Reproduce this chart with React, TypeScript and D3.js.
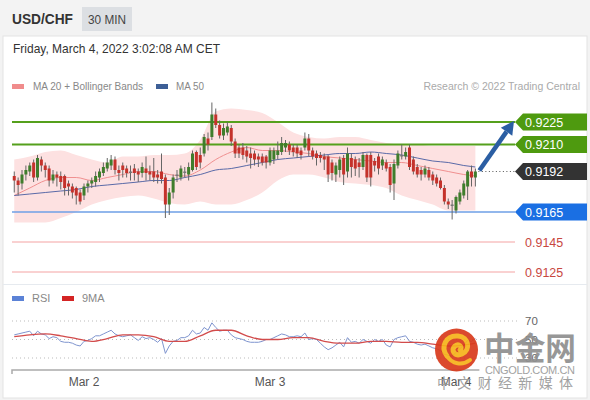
import React from 'react';
import * as d3 from 'd3';

// ---------- DATA (USD/CHF, 30 min candles, from Mar 1 15:00 CET) ----------
const opens = [
  0.9189,0.9186,0.9184,0.9190,0.9192,0.9198,0.9188,0.9200,0.9196,0.9194,
  0.9186,0.9190,0.9189,0.9189,0.9184,0.9182,0.9181,0.9178,0.9176,0.9182,
  0.9184,0.9185,0.9188,0.9191,0.9194,0.9196,0.9200,0.9193,0.9196,0.9194,
  0.9192,0.9194,0.9192,0.9191,0.9194,0.9192,0.9192,0.9190,0.9192,0.9188,
  0.9170,0.9178,0.9189,0.9188,0.9191,0.9190,0.9193,0.9205,0.9203,0.9204,
  0.9214,0.9215,0.9230,0.9223,0.9216,0.9218,0.9221,0.9212,0.9208,0.9208,
  0.9206,0.9204,0.9204,0.9202,0.9202,0.9202,0.9198,0.9200,0.9203,0.9205,
  0.9208,0.9210,0.9208,0.9208,0.9206,0.9208,0.9214,0.9206,0.9204,0.9203,
  0.9202,0.9202,0.9198,0.9190,0.9193,0.9201,0.9192,0.9201,0.9200,0.9198,
  0.9195,0.9203,0.9203,0.9199,0.9202,0.9196,0.9198,0.9195,0.9184,0.9196,
  0.9203,0.9202,0.9208,0.9200,0.9195,0.9193,0.9190,0.9193,0.9190,0.9188,
  0.9186,0.9181,0.9172,0.9170,0.9166,0.9172,0.9176,0.9182,0.9192,0.9188,
];
const highs = [
  0.9192,0.9188,0.9193,0.9196,0.9198,0.9200,0.9203,0.9202,0.9198,0.9196,
  0.9193,0.9192,0.9192,0.9190,0.9186,0.9184,0.9182,0.9180,0.9184,0.9186,
  0.9188,0.9192,0.9194,0.9198,0.9201,0.9203,0.9202,0.9196,0.9198,0.9196,
  0.9196,0.9197,0.9194,0.9198,0.9202,0.9196,0.9201,0.9193,0.9204,0.9190,
  0.9181,0.9190,0.9193,0.9196,0.9195,0.9198,0.9206,0.9206,0.9208,0.9217,
  0.9218,0.9238,0.9234,0.9226,0.9224,0.9225,0.9223,0.9214,0.9210,0.9211,
  0.9209,0.9208,0.9206,0.9204,0.9204,0.9203,0.9208,0.9208,0.9212,0.9215,
  0.9213,0.9212,0.9210,0.9210,0.9208,0.9218,0.9217,0.9208,0.9206,0.9205,
  0.9204,0.9203,0.9200,0.9198,0.9202,0.9203,0.9208,0.9204,0.9202,0.9201,
  0.9205,0.9204,0.9205,0.9201,0.9204,0.9202,0.9200,0.9197,0.9200,0.9206,
  0.9210,0.9208,0.9210,0.9202,0.9197,0.9195,0.9196,0.9195,0.9192,0.9190,
  0.9188,0.9183,0.9174,0.9173,0.9176,0.9180,0.9186,0.9193,0.9196,0.9194,
];
const lows = [
  0.9178,0.9176,0.9180,0.9186,0.9189,0.9185,0.9186,0.9192,0.9188,0.9182,
  0.9184,0.9182,0.9180,0.9176,0.9176,0.9174,0.9170,0.9170,0.9173,0.9178,
  0.9181,0.9182,0.9185,0.9189,0.9192,0.9193,0.9190,0.9186,0.9188,0.9188,
  0.9186,0.9186,0.9185,0.9188,0.9186,0.9186,0.9185,0.9184,0.9184,0.9161,
  0.9163,0.9174,0.9185,0.9186,0.9188,0.9186,0.9192,0.9193,0.9194,0.9202,
  0.9206,0.9213,0.9221,0.9214,0.9213,0.9216,0.9209,0.9201,0.9201,0.9200,
  0.9198,0.9194,0.9196,0.9195,0.9196,0.9194,0.9196,0.9197,0.9200,0.9203,
  0.9205,0.9203,0.9202,0.9201,0.9200,0.9206,0.9202,0.9200,0.9196,0.9198,
  0.9193,0.9185,0.9186,0.9185,0.9188,0.9183,0.9188,0.9188,0.9189,0.9188,
  0.9193,0.9185,0.9182,0.9192,0.9190,0.9193,0.9192,0.9178,0.9173,0.9194,
  0.9200,0.9200,0.9193,0.9190,0.9188,0.9186,0.9188,0.9186,0.9183,0.9182,
  0.9180,0.9170,0.9167,0.9160,0.9164,0.9170,0.9174,0.9173,0.9182,0.9182,
];
const closes = [
  0.9186,0.9183,0.9190,0.9193,0.9196,0.9188,0.9201,0.9196,0.9193,0.9186,
  0.9190,0.9188,0.9185,0.9181,0.9182,0.9178,0.9176,0.9172,0.9182,0.9184,
  0.9186,0.9189,0.9192,0.9195,0.9198,0.9200,0.9193,0.9191,0.9193,0.9191,
  0.9191,0.9191,0.9190,0.9195,0.9191,0.9190,0.9188,0.9188,0.9187,0.9170,
  0.9178,0.9188,0.9190,0.9194,0.9192,0.9195,0.9204,0.9195,0.9198,0.9215,
  0.9210,0.9230,0.9223,0.9216,0.9221,0.9222,0.9212,0.9204,0.9204,0.9203,
  0.9202,0.9201,0.9200,0.9200,0.9198,0.9198,0.9206,0.9206,0.9206,0.9211,
  0.9211,0.9206,0.9205,0.9204,0.9203,0.9214,0.9206,0.9202,0.9201,0.9201,
  0.9200,0.9190,0.9191,0.9196,0.9200,0.9190,0.9204,0.9195,0.9194,0.9195,
  0.9203,0.9188,0.9188,0.9196,0.9194,0.9200,0.9194,0.9183,0.9197,0.9204,
  0.9202,0.9205,0.9195,0.9192,0.9190,0.9190,0.9194,0.9188,0.9186,0.9184,
  0.9181,0.9172,0.9170,0.9169,0.9175,0.9178,0.9184,0.9192,0.9188,0.9192,
];

// candle indices at which the indicator curves were read
const indIdx = [0,4,8,12,16,20,24,28,32,36,40,44,48,52,56,60,64,68,72,76,80,84,88,92,96,100,104,108,112,116,119];
const ma20 = [0.9176,0.9181,0.9186,0.9188,0.9188,0.9186,0.9188,0.9190,0.9192,0.9192,0.9190,0.9189,0.9193,0.9200,0.9205,0.9208,0.9206,0.9206,0.9205,0.9204,0.9202,0.9201,0.9200,0.9199,0.9198,0.9198,0.9196,0.9194,0.9192,0.9190,0.9189];
const bbUpper = [0.9200,0.9202,0.9205,0.9206,0.9203,0.9200,0.9198,0.9202,0.9202,0.9203,0.9203,0.9204,0.9213,0.9232,0.9234,0.9233,0.9231,0.9225,0.9218,0.9215,0.9214,0.9215,0.9215,0.9213,0.9211,0.9210,0.9210,0.9209,0.9209,0.9209,0.9209];
const bbLower = [0.9158,0.9158,0.9158,0.9161,0.9165,0.9170,0.9173,0.9175,0.9176,0.9174,0.9171,0.9170,0.9172,0.9170,0.9170,0.9173,0.9178,0.9186,0.9190,0.9190,0.9188,0.9185,0.9184,0.9183,0.9181,0.9176,0.9173,0.9170,0.9166,0.9166,0.9166];
const ma50 = [0.9176,0.9177,0.9178,0.9179,0.9180,0.9182,0.9183,0.9184,0.9185,0.9186,0.9186,0.9188,0.9190,0.9193,0.9194,0.9196,0.9198,0.9200,0.9201,0.9202,0.9203,0.9204,0.9204,0.9205,0.9204,0.9203,0.9201,0.9199,0.9198,0.9196,0.9195];

const rsi = [
  55,56,57,58,59,54,59,56,55,51,
  53,52,48,47,47,46,44,43,48,49,
  51,54,54,56,58,60,56,54,53,54,
  55,52,49,53,51,52,50,47,51,35,
  43,48,49,52,52,54,60,56,57,63,
  60,68,63,59,60,60,55,52,51,50,
  48,47,47,47,48,50,50,52,54,56,
  55,53,53,54,53,57,50,51,50,46,
  42,39,41,44,47,42,52,47,48,46,
  50,48,46,50,48,50,44,42,50,52,
  53,54,48,47,45,44,45,43,41,40,
  38,34,33,32,36,40,44,49,48,51,
];
const rsiMa = [53,55,56,54,51,48,51,55,55,53,48,48,54,60,60,54,50,50,52,52,48,46,46,48,48,47,47,45,43,44,46];

const resistances = [0.9225, 0.9210];
const lastPrice = 0.9192;
const pivot = 0.9165;
const supports = [0.9145, 0.9125];
const rsiLevels = [70, 50, 30];
const dayTicks = ['2022-03-02', '2022-03-03', '2022-03-04'];

const START = Date.UTC(2022, 2, 1, 15, 0);
const STEP = 30 * 60 * 1000;
const times = opens.map((_, i) => new Date(START + i * STEP));

const FONT = '"Liberation Sans", Arial, Helvetica, sans-serif';
const CJK = '"Noto Sans CJK SC", sans-serif';

export default function App() {
  const x = d3.scaleUtc()
    .domain([new Date(Date.UTC(2022, 2, 2)), new Date(Date.UTC(2022, 2, 4))])
    .range([84, 456]);
  const y = d3.scaleLinear().domain([0.9125, 0.9225]).range([272, 122]);
  const yr = d3.scaleLinear().domain([30, 70]).range([358, 321]);

  const ix = (k: number) => x(times[indIdx[k]]);
  const band = d3.area<number>()
    .x((_, k) => ix(k))
    .y0((_, k) => y(bbLower[k]))
    .y1((_, k) => y(bbUpper[k]))
    .curve(d3.curveMonotoneX)(indIdx) || '';
  const lineOf = (arr: number[]) => d3.line<number>()
    .x((_, k) => ix(k)).y((d) => y(d)).curve(d3.curveMonotoneX)(arr) || '';
  const rsiPath = d3.line<number>().x((_, i) => x(times[i])).y((d) => yr(d))(rsi) || '';
  const rsiMaPath = d3.line<number>().x((_, k) => ix(k)).y((d) => yr(d)).curve(d3.curveMonotoneX)(rsiMa) || '';

  const lineStart = 12;
  const labelX = 515;
  const labelEnd = 587;
  const xLast = x(times[times.length - 1]);

  const labelBox = (v: number, fill: string, txt: string) => {
    const cy = y(v);
    const h = 17;
    const pts = [
      [labelX, cy], [labelX + 8, cy - h / 2], [labelEnd, cy - h / 2],
      [labelEnd, cy + h / 2], [labelX + 8, cy + h / 2],
    ].map((p) => p.join(',')).join(' ');
    return (
      <g key={txt}>
        <polygon points={pts} fill={fill} />
        <text x={labelX + 10} y={cy + 4.5} fill="#fff" fontSize={12.5}>{txt}</text>
      </g>
    );
  };

  // forecast arrow
  const sx = xLast + 4, sy = y(lastPrice) - 1;
  const tx = labelX - 1, ty = y(resistances[0]) - 1;
  const dx = tx - sx, dy = ty - sy, len = Math.hypot(dx, dy);
  const ux = dx / len, uy = dy / len;
  const bx = tx - ux * 13, by = ty - uy * 13;
  const nx = -uy, ny = ux;
  const head = `${tx},${ty} ${bx + nx * 7},${by + ny * 7} ${bx - nx * 7},${by - ny * 7}`;

  const fmtDay = d3.utcFormat('%b %-d');

  return (
    <svg width={590} height={400} style={{ position: 'absolute', left: 0, top: 0, fontFamily: FONT }}>
      <rect x={0} y={0} width={590} height={400} fill="#f3f3f3" />
      <rect x={3} y={36} width={584} height={362} fill="#ffffff" stroke="#e3e3e3" />
      <line x1={3} x2={587} y1={284.5} y2={284.5} stroke="#e6eaef" />

      {/* header */}
      <text x={12} y={24} fontSize={14.5} fontWeight="bold" fill="#333" textLength={61} lengthAdjust="spacingAndGlyphs">USD/CHF</text>
      <rect x={82} y={7} width={50} height={24} fill="#dcdfe3" />
      <text x={107} y={23.5} fontSize={12.5} fill="#444" textAnchor="middle" textLength={38} lengthAdjust="spacingAndGlyphs">30 MIN</text>
      <text x={13} y={53} fontSize={13} fill="#333" textLength={207} lengthAdjust="spacingAndGlyphs">Friday, March 4, 2022 3:02:08 AM CET</text>

      {/* legend */}
      <rect x={12} y={84} width={12} height={5} fill="#f08c8c" />
      <text x={33} y={90} fontSize={11} fill="#888" textLength={110} lengthAdjust="spacingAndGlyphs">MA 20 + Bollinger Bands</text>
      <rect x={156} y={84} width={12} height={5} fill="#3d5f96" />
      <text x={176} y={90} fontSize={11} fill="#888" textLength={28} lengthAdjust="spacingAndGlyphs">MA 50</text>
      <text x={580} y={90} fontSize={10.5} fill="#aaa" textAnchor="end">Research © 2022 Trading Central</text>

      {/* bollinger band + moving averages */}
      <path d={band} fill="#fde1e1" />
      <path d={lineOf(ma20)} fill="none" stroke="#f09090" strokeWidth={1} />
      <path d={lineOf(ma50)} fill="none" stroke="#5a6aa8" strokeWidth={1} />

      {/* key levels */}
      {resistances.map((v) => (
        <line key={v} x1={lineStart} x2={labelX} y1={y(v)} y2={y(v)} stroke="#55a01c" strokeWidth={2} />
      ))}
      <line x1={lineStart} x2={labelX} y1={y(pivot)} y2={y(pivot)} stroke="#6e9fe6" strokeWidth={1.5} />
      {supports.map((v) => (
        <line key={v} x1={lineStart} x2={labelX} y1={y(v)} y2={y(v)} stroke="#f4a3a3" strokeWidth={1} />
      ))}
      <line x1={xLast + 3} x2={labelX} y1={y(lastPrice)} y2={y(lastPrice)} stroke="#555" strokeWidth={1} strokeDasharray="1,2.5" />

      {/* candles */}
      {opens.map((o, i) => {
        const c = closes[i];
        const cx = x(times[i]);
        const up = c > o;
        const flat = Math.abs(c - o) < 0.00015;
        const col = flat ? '#777' : up ? '#3f7d2c' : '#c4322b';
        const top = y(Math.max(o, c));
        const bot = y(Math.min(o, c));
        return (
          <g key={i}>
            <line x1={cx} x2={cx} y1={y(highs[i])} y2={y(lows[i])} stroke="#666" strokeWidth={1} />
            <rect x={cx - 1.5} y={top} width={3} height={Math.max(1.2, bot - top)} fill={col} />
          </g>
        );
      })}

      {/* arrow */}
      <line x1={sx} y1={sy} x2={bx} y2={by} stroke="#2b5ea3" strokeWidth={4.5} />
      <polygon points={head} fill="#2b5ea3" />

      {/* level labels */}
      {labelBox(resistances[0], '#4e9a0f', '0.9225')}
      {labelBox(resistances[1], '#4e9a0f', '0.9210')}
      {labelBox(lastPrice, '#333333', '0.9192')}
      {labelBox(pivot, '#1a6fe3', '0.9165')}
      {supports.map((v) => (
        <text key={v} x={labelX + 10} y={y(v) + 4.5} fontSize={12.5} fill="#c8473f">{v.toFixed(4)}</text>
      ))}

      {/* RSI panel */}
      <rect x={12} y={296} width={12} height={5} fill="#5b82d6" />
      <text x={32} y={302} fontSize={11} fill="#888">RSI</text>
      <rect x={62} y={296} width={12} height={5} fill="#d42424" />
      <text x={82} y={302} fontSize={11} fill="#888">9MA</text>
      {rsiLevels.map((v) => (
        <g key={v}>
          <line x1={lineStart} x2={518} y1={yr(v)} y2={yr(v)} stroke="#bbb" strokeDasharray="1,3" />
          <text x={525} y={yr(v) + 4} fontSize={11.5} fill="#666">{v}</text>
        </g>
      ))}
      <path d={rsiPath} fill="none" stroke="#7f95cf" strokeWidth={1} />
      <path d={rsiMaPath} fill="none" stroke="#d24b4b" strokeWidth={1.3} />

      {/* time axis */}
      <path d={`M${lineStart},374 V370 H${xLast + 4}`} fill="none" stroke="#aaa" strokeWidth={1.5} />
      {dayTicks.map((d) => {
        const t = new Date(d + 'T00:00:00Z');
        return (
          <text key={d} x={x(t)} y={386} fontSize={12} fill="#555" textAnchor="middle">{fmtDay(t)}</text>
        );
      })}

      {/* watermark */}
      <g opacity={0.92}>
        <circle cx={456.5} cy={350} r={21.5} fill="#d93a1c" />
        <path d="M447,356 C440,347 446,335 458,336 C469,337 471,350 462,354 C455,357 450,350 455,346 C459,343 463,347 460,350"
          fill="none" stroke="#f6b21a" strokeWidth={5} strokeLinecap="round" />
        <path d="M447,356 C452,364 462,366 470,360" fill="none" stroke="#f6b21a" strokeWidth={4} strokeLinecap="round" />
        <text x={484} y={360} fontSize={32} fontWeight="bold" fill="#8f8f8f"
          fontFamily={CJK} textLength={92} lengthAdjust="spacingAndGlyphs">中金网</text>
        <text x={485} y={373.5} fontSize={11} fill="#9a9a9a" textLength={90}>CNGOLD.COM.CN</text>
        <text x={437} y={387.5} fontSize={14} fill="#9a9a9a"
          fontFamily={CJK} textLength={136}>中文财经新媒体</text>
      </g>
    </svg>
  );
}
